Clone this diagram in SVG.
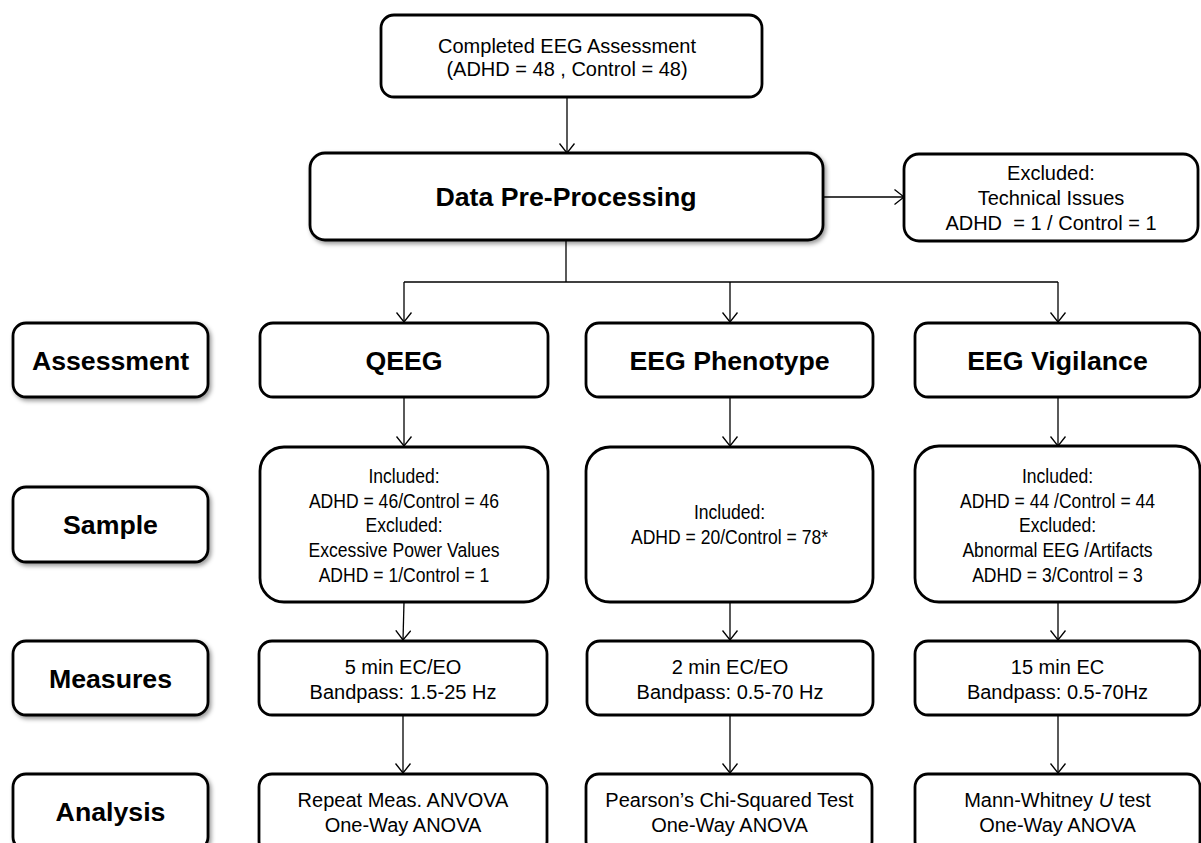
<svg xmlns="http://www.w3.org/2000/svg" width="1201" height="843" viewBox="0 0 1201 843">
<style>
.box{fill:#fff;stroke:#000;stroke-width:2.8}
.t{font-family:"Liberation Sans",Arial,sans-serif;font-size:20px;text-anchor:middle;fill:#000}
.s{font-family:"Liberation Sans",Arial,sans-serif;font-size:19.5px;text-anchor:middle;fill:#000}
.b{font-family:"Liberation Sans",Arial,sans-serif;font-size:26.7px;font-weight:bold;text-anchor:middle;fill:#000}
.c{fill:none;stroke:#000;stroke-width:1.3}
</style>
<defs>
<filter id="sh" x="-10%" y="-10%" width="125%" height="130%">
<feDropShadow dx="2" dy="2.5" stdDeviation="2" flood-color="#000" flood-opacity="0.4"/>
</filter>
<marker id="ah" viewBox="0 0 11 16" refX="10" refY="8" markerWidth="11" markerHeight="16" markerUnits="userSpaceOnUse" orient="auto">
<path d="M0.5,0.5 L10,8 L0.5,15.5" fill="none" stroke="#000" stroke-width="1.3"/>
</marker>
</defs>

<g id="connectors">
<line class="c" x1="567" y1="97" x2="567" y2="153" marker-end="url(#ah)"/>
<line class="c" x1="823" y1="197" x2="904" y2="197" marker-end="url(#ah)"/>
<line class="c" x1="566" y1="240" x2="566" y2="282"/>
<line class="c" x1="404" y1="282" x2="1058" y2="282" stroke="#333"/>
<line class="c" x1="404" y1="282" x2="404" y2="322" marker-end="url(#ah)"/>
<line class="c" x1="730" y1="282" x2="730" y2="322" marker-end="url(#ah)"/>
<line class="c" x1="1058" y1="282" x2="1058" y2="322" marker-end="url(#ah)"/>
<line class="c" x1="404" y1="397" x2="404" y2="446" marker-end="url(#ah)"/>
<line class="c" x1="730" y1="397" x2="730" y2="446" marker-end="url(#ah)"/>
<line class="c" x1="1058" y1="397" x2="1058" y2="446" marker-end="url(#ah)"/>
<line class="c" x1="404" y1="602" x2="403" y2="640" marker-end="url(#ah)"/>
<line class="c" x1="730" y1="602" x2="730" y2="640" marker-end="url(#ah)"/>
<line class="c" x1="1058" y1="602" x2="1058" y2="640" marker-end="url(#ah)"/>
<line class="c" x1="403" y1="715" x2="403" y2="773" marker-end="url(#ah)"/>
<line class="c" x1="730" y1="715" x2="730" y2="773" marker-end="url(#ah)"/>
<line class="c" x1="1058" y1="715" x2="1058" y2="773" marker-end="url(#ah)"/>
</g>

<g id="completed">
<rect class="box" x="381" y="15" width="381" height="82" rx="13"/>
<text class="t" x="567" y="52.5">Completed EEG Assessment</text>
<text class="t" x="567" y="76">(ADHD = 48 , Control = 48)</text>
</g>

<g id="preprocessing">
<rect class="box" x="310" y="153" width="513" height="87" rx="15" filter="url(#sh)"/>
<text class="b" x="566" y="206">Data Pre-Processing</text>
</g>

<g id="excluded-tech">
<rect class="box" x="904" y="154" width="294" height="87" rx="15"/>
<text class="t" x="1051" y="180">Excluded:</text>
<text class="t" x="1051" y="205">Technical Issues</text>
<text class="t" x="1051" y="230" xml:space="preserve">ADHD  = 1 / Control = 1</text>
</g>

<g id="label-assessment">
<rect class="box" x="13" y="323" width="195" height="74" rx="13" filter="url(#sh)"/>
<text class="b" x="110.5" y="370">Assessment</text>
</g>
<g id="label-sample">
<rect class="box" x="13" y="487" width="195" height="75" rx="13" filter="url(#sh)"/>
<text class="b" x="110.5" y="534">Sample</text>
</g>
<g id="label-measures">
<rect class="box" x="13" y="641" width="195" height="74" rx="13" filter="url(#sh)"/>
<text class="b" x="110.5" y="688">Measures</text>
</g>
<g id="label-analysis">
<rect class="box" x="13" y="774" width="195" height="76" rx="13" filter="url(#sh)"/>
<text class="b" x="110.5" y="821">Analysis</text>
</g>

<g id="qeeg">
<rect class="box" x="260" y="323" width="288" height="74" rx="13"/>
<text class="b" x="404" y="370">QEEG</text>
</g>
<g id="phenotype">
<rect class="box" x="586" y="323" width="287" height="74" rx="13"/>
<text class="b" x="729.5" y="370">EEG Phenotype</text>
</g>
<g id="vigilance">
<rect class="box" x="915" y="323" width="285" height="74" rx="13"/>
<text class="b" x="1057.5" y="370">EEG Vigilance</text>
</g>

<g id="sample-qeeg">
<rect class="box" x="260" y="447" width="288" height="155" rx="24"/>
<g transform="translate(404,0) scale(0.9,1)">
<text class="s" x="0" y="483">Included:</text>
<text class="s" x="0" y="508">ADHD = 46/Control = 46</text>
<text class="s" x="0" y="532.5">Excluded:</text>
<text class="s" x="0" y="557">Excessive Power Values</text>
<text class="s" x="0" y="582">ADHD = 1/Control = 1</text>
</g>
</g>
<g id="sample-phenotype">
<rect class="box" x="586" y="447" width="287" height="155" rx="24"/>
<g transform="translate(729.5,0) scale(0.9,1)">
<text class="s" x="0" y="519">Included:</text>
<text class="s" x="0" y="544">ADHD = 20/Control = 78*</text>
</g>
</g>
<g id="sample-vigilance">
<rect class="box" x="915" y="446" width="285" height="156" rx="24"/>
<g transform="translate(1057.5,0) scale(0.9,1)">
<text class="s" x="0" y="483">Included:</text>
<text class="s" x="0" y="508">ADHD = 44 /Control = 44</text>
<text class="s" x="0" y="532.5">Excluded:</text>
<text class="s" x="0" y="557">Abnormal EEG /Artifacts</text>
<text class="s" x="0" y="582">ADHD = 3/Control = 3</text>
</g>
</g>

<g id="measures-qeeg">
<rect class="box" x="259" y="641" width="288" height="74" rx="13"/>
<text class="t" x="403" y="674">5 min EC/EO</text>
<text class="t" x="403" y="699">Bandpass: 1.5-25 Hz</text>
</g>
<g id="measures-phenotype">
<rect class="box" x="587" y="641" width="286" height="74" rx="13"/>
<text class="t" x="730" y="674">2 min EC/EO</text>
<text class="t" x="730" y="699">Bandpass: 0.5-70 Hz</text>
</g>
<g id="measures-vigilance">
<rect class="box" x="915" y="641" width="285" height="74" rx="13"/>
<text class="t" x="1057.5" y="674">15 min EC</text>
<text class="t" x="1057.5" y="699">Bandpass: 0.5-70Hz</text>
</g>

<g id="analysis-qeeg">
<rect class="box" x="259" y="774" width="288" height="80" rx="13"/>
<text class="t" x="403" y="807">Repeat Meas. ANVOVA</text>
<text class="t" x="403" y="832">One-Way ANOVA</text>
</g>
<g id="analysis-phenotype">
<rect class="box" x="586" y="774" width="286" height="80" rx="13"/>
<text class="t" x="729.5" y="807">Pearson’s Chi-Squared Test</text>
<text class="t" x="729.5" y="832">One-Way ANOVA</text>
</g>
<g id="analysis-vigilance">
<rect class="box" x="915" y="774" width="285" height="80" rx="13"/>
<text class="t" x="1057.5" y="807">Mann-Whitney <tspan font-style="italic">U</tspan> test</text>
<text class="t" x="1057.5" y="832">One-Way ANOVA</text>
</g>
</svg>
